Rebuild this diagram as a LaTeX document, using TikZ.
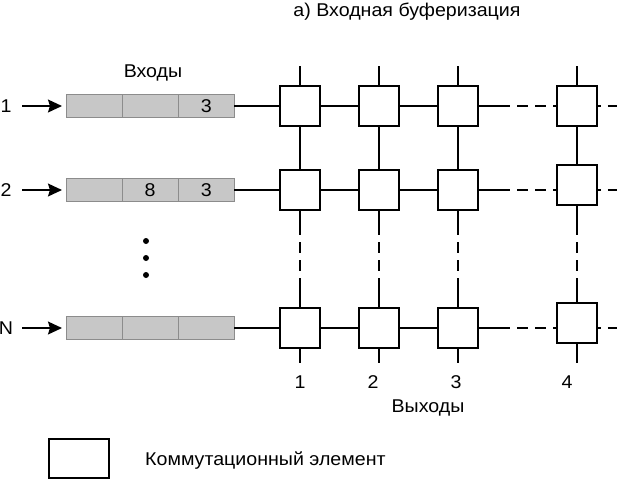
\documentclass[tikz,border=0pt]{standalone}
\usepackage{fontspec}
\setmainfont{Liberation Sans}[FakeStretch=1.06]
\usetikzlibrary{arrows.meta,positioning}

\begin{document}
\begin{tikzpicture}[x=1pt, y=-1pt,
	every node/.style={font=\fontsize{18.5}{21}\selectfont, inner sep=0pt},
	sw/.style={draw, line width=1.6pt, fill=white, minimum size=40pt},
	cell/.style={draw=black!45, fill=black!22, minimum width=55.7pt, minimum height=23pt},
	ln/.style={line width=1.2pt},
	dsh/.style={ln, dash pattern=on 11pt off 7pt},
	inarr/.style={ln, -{Stealth[length=14pt,width=13pt,inset=2pt]}, shorten >=4pt, shorten <=16pt}]
\useasboundingbox (0,0) rectangle (617,480);
\node (title) at (407,12) {а) Входная буферизация};
\node (inputs) at (153,73) {Входы};
\node (in1) at (6,106) {1};
\node (in2) at (6,190) {2};
\node (inN) at (6,328) {N};
\node[cell] (b11) at (94,106) {};
\node[cell, right=0pt of b11] (b12) {};
\node[cell, right=0pt of b12] (b13) {3};
\node[cell] (b21) at (94,190) {};
\node[cell, right=0pt of b21] (b22) {8};
\node[cell, right=0pt of b22] (b23) {3};
\node[cell] (bN1) at (94,328) {};
\node[cell, right=0pt of bN1] (bN2) {};
\node[cell, right=0pt of bN2] (bN3) {};
\draw[inarr] (in1.center) -- (b11.west);
\draw[inarr] (in2.center) -- (b21.west);
\draw[inarr] (inN.center) -- (bN1.west);
\fill (146,241) circle (3);
\fill (146,258) circle (3);
\fill (146,275) circle (3);
\foreach \c/\x in {1/300,2/379,3/458} {
	\node[sw] (s1\c) at (\x,106) {};
	\node[sw] (s2\c) at (\x,190) {};
	\node[sw] (sN\c) at (\x,328) {};
}
\node[sw] (s14) at (577,106) {};
\node[sw] (s24) at (577,185) {};
\node[sw] (sN4) at (577,323) {};
\foreach \c/\x in {1/300,2/379,3/458,4/577} {
	\coordinate (top\c) at (\x,66);
	\coordinate (bot\c) at (\x,363);
	\coordinate (u\c) at (\x,235);
	\coordinate (v\c) at (\x,278);
	\draw[ln] (top\c) -- (s1\c.north);
	\draw[ln] (s1\c.south) -- (s2\c.north);
	\draw[ln] (s2\c.south) -- (u\c);
	\draw[dsh, dash phase=11pt] (u\c) -- (v\c);
	\draw[ln] (v\c) -- (sN\c.north);
	\draw[ln] (sN\c.south) -- (bot\c);
}
\foreach \r/\y in {1/106,2/190,N/328} {
	\coordinate (m\r) at (510,\y);
	\coordinate (e\r) at (617,\y);
	\draw[ln] (b\r3.east) -- (s\r1.west);
	\draw[ln] (s\r1.east) -- (s\r2.west);
	\draw[ln] (s\r2.east) -- (s\r3.west);
	\draw[ln] (s\r3.east) -- (m\r);
	\draw[dsh, dash phase=11pt] (m\r) -- (s\r4.west |- m\r);
	\draw[dsh, dash phase=8pt] (s\r4.east |- m\r) -- (e\r);
}
\node (out1) at (300,382) {1};
\node (out2) at (373,382) {2};
\node (out3) at (456,382) {3};
\node (out4) at (567,382) {4};
\node (outputs) at (428,408) {Выходы};
\node[draw, line width=1.4pt, minimum width=60pt, minimum height=39pt] (key) at (79,458.5) {};
\node[anchor=west] (keytext) at (145,461) {Коммутационный элемент};
\end{tikzpicture}
\end{document}
